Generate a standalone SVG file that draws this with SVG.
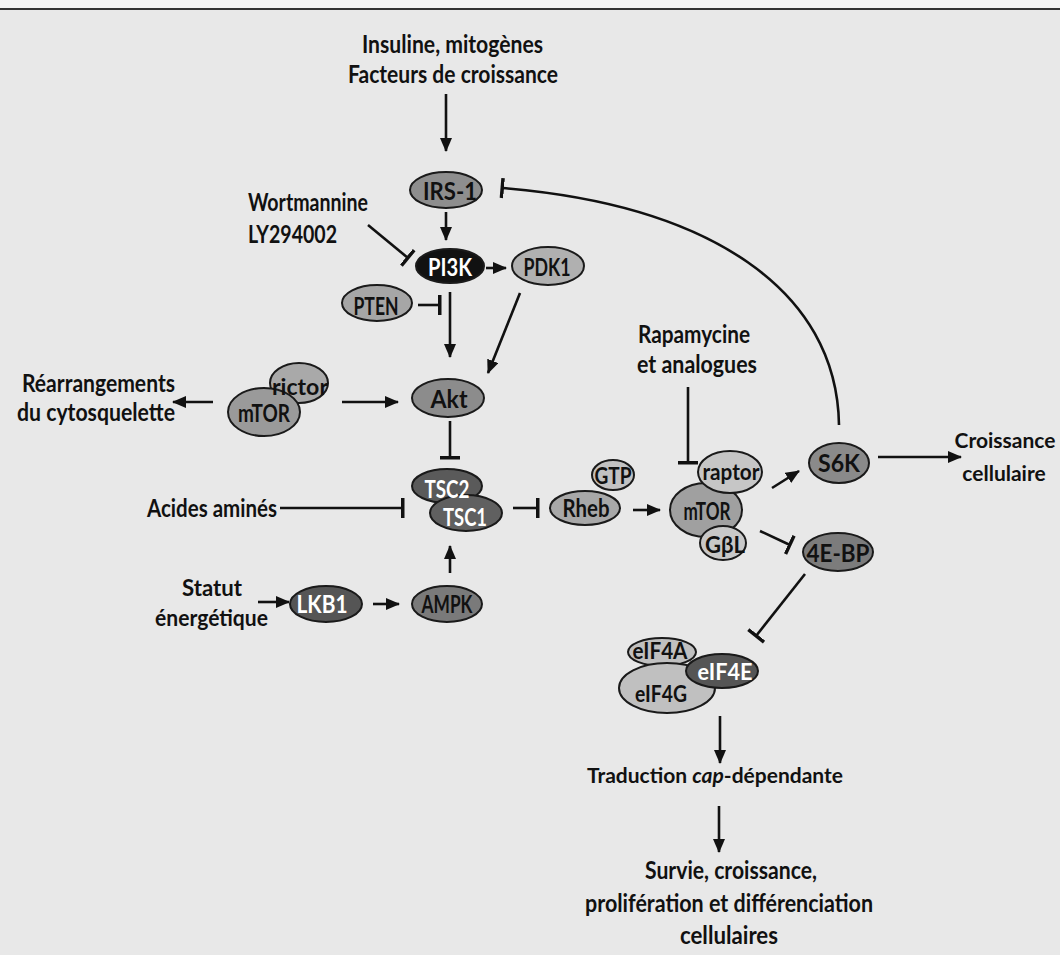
<svg xmlns="http://www.w3.org/2000/svg" width="1060" height="955" viewBox="0 0 1060 955">
<defs>
<style>
text{font-family:Lato,"Open Sans","DejaVu Sans",sans-serif;font-weight:bold;fill:#111}
.lbl{font-size:25px}
.l2{font-size:23px}
.l3{font-size:21px;text-anchor:middle}
.nt{font-size:25px;text-anchor:middle}
.sm{font-size:22px}
.w{fill:#fff}
.n{stroke:#1a1a1a;stroke-width:2}
.e{fill:none;stroke:#111;stroke-width:2.6}
.a{marker-end:url(#arr)}
.t{marker-end:url(#bar)}
</style>
<marker id="arr" markerUnits="userSpaceOnUse" markerWidth="14" markerHeight="12" refX="13" refY="6" orient="auto">
<path d="M0,0 L14,6 L0,12 z" fill="#111"/>
</marker>
<marker id="bar" markerUnits="userSpaceOnUse" markerWidth="4" markerHeight="22" refX="2" refY="11" orient="auto">
<rect x="0" y="1" width="3.5" height="20" fill="#111"/>
</marker>
</defs>
<rect width="1060" height="955" fill="#e8e8e8"/>
<rect width="1060" height="8" fill="#f4f4f4"/>
<line x1="0" y1="9" x2="1060" y2="9" stroke="#333" stroke-width="2"/>

<g id="labels">
<text class="lbl" x="362" y="53" textLength="181" lengthAdjust="spacingAndGlyphs">Insuline, mitogènes</text>
<text class="lbl" x="348" y="83" textLength="210" lengthAdjust="spacingAndGlyphs">Facteurs de croissance</text>
<text class="lbl" x="248" y="211" textLength="120" lengthAdjust="spacingAndGlyphs">Wortmannine</text>
<text class="lbl" x="248" y="243" textLength="89" lengthAdjust="spacingAndGlyphs">LY294002</text>
<text class="lbl" x="22" y="392" textLength="153" lengthAdjust="spacingAndGlyphs">Réarrangements</text>
<text class="lbl" x="17" y="421" textLength="158" lengthAdjust="spacingAndGlyphs">du cytosquelette</text>
<text class="lbl" x="147" y="517" textLength="130" lengthAdjust="spacingAndGlyphs">Acides aminés</text>
<text class="l2" x="182" y="596" textLength="60" lengthAdjust="spacingAndGlyphs">Statut</text>
<text class="l2" x="155" y="626" textLength="113" lengthAdjust="spacingAndGlyphs">énergétique</text>
<text class="lbl" x="638" y="343" textLength="112" lengthAdjust="spacingAndGlyphs">Rapamycine</text>
<text class="lbl" x="637" y="373" textLength="120" lengthAdjust="spacingAndGlyphs">et analogues</text>
<text class="l3" x="1005" y="448">Croissance</text>
<text class="l3" x="1004" y="481">cellulaire</text>
<text class="l3" x="715" y="783">Traduction <tspan font-style="italic">cap</tspan>-dépendante</text>
<text class="lbl" x="645" y="879" textLength="172" lengthAdjust="spacingAndGlyphs">Survie, croissance,</text>
<text class="lbl" x="585" y="912" textLength="288" lengthAdjust="spacingAndGlyphs">prolifération et différenciation</text>
<text class="lbl" x="680" y="944" textLength="98" lengthAdjust="spacingAndGlyphs">cellulaires</text>
</g>

<g id="connectors">
<line class="e a" x1="446" y1="94" x2="446" y2="151"/>
<line class="e a" x1="446" y1="212" x2="446" y2="240"/>
<line class="e t" x1="368" y1="225" x2="408" y2="258"/>
<line class="e a" x1="486" y1="268" x2="506" y2="268"/>
<line class="e t" x1="418" y1="305" x2="440" y2="305"/>
<line class="e a" x1="450" y1="292" x2="450" y2="357"/>
<line class="e a" x1="520" y1="293" x2="488" y2="373"/>
<line class="e a" x1="342" y1="402" x2="398" y2="402"/>
<line class="e a" x1="213" y1="402" x2="173" y2="402"/>
<line class="e t" x1="450" y1="421" x2="450" y2="458"/>
<line class="e t" x1="280" y1="508" x2="403" y2="508"/>
<line class="e t" x1="513" y1="508" x2="538" y2="508"/>
<line class="e a" x1="633" y1="510" x2="660" y2="510"/>
<line class="e t" x1="688" y1="387" x2="688" y2="463"/>
<line class="e a" x1="772" y1="488" x2="799" y2="471"/>
<line class="e a" x1="878" y1="457" x2="961" y2="457"/>
<path class="e t" d="M839 425 C837 290 710 205 502 188"/>
<line class="e t" x1="760" y1="531" x2="790" y2="545"/>
<line class="e t" x1="805" y1="574" x2="756" y2="636"/>
<line class="e a" x1="720" y1="716" x2="720" y2="763"/>
<line class="e a" x1="719" y1="806" x2="719" y2="852"/>
<line class="e a" x1="258" y1="602" x2="289" y2="602"/>
<line class="e a" x1="373" y1="604" x2="399" y2="604"/>
<line class="e a" x1="450" y1="573" x2="450" y2="546"/>
</g>

<g id="IRS-1"><ellipse class="n" cx="446" cy="190" rx="36" ry="18" fill="#8e8e8e"/><text class="nt" x="450" y="200" textLength="54" lengthAdjust="spacingAndGlyphs">IRS-1</text></g>
<g id="PI3K"><ellipse class="n" cx="450" cy="266" rx="34" ry="17" fill="#111"/><text class="nt w" x="450" y="276" textLength="44" lengthAdjust="spacingAndGlyphs">PI3K</text></g>
<g id="PDK1"><ellipse class="n" cx="548" cy="266" rx="36" ry="19" fill="#b0b0b0"/><text class="nt" x="547" y="276" textLength="47" lengthAdjust="spacingAndGlyphs">PDK1</text></g>
<g id="PTEN"><ellipse class="n" cx="377" cy="303" rx="35" ry="18" fill="#a6a6a6"/><text class="nt" x="376" y="315" textLength="45" lengthAdjust="spacingAndGlyphs">PTEN</text></g>
<g id="Akt"><ellipse class="n" cx="448" cy="398" rx="36" ry="19" fill="#8c8c8c"/><text class="nt" x="449" y="408" textLength="37" lengthAdjust="spacingAndGlyphs">Akt</text></g>
<g id="mTORC2">
<ellipse class="n" cx="299" cy="383" rx="29" ry="20" fill="#a9a9a9"/>
<ellipse class="n" cx="264" cy="412" rx="36" ry="24" fill="#9a9a9a"/>
<text class="nt sm" x="300" y="395" textLength="56" lengthAdjust="spacingAndGlyphs">rictor</text>
<text class="nt" x="264" y="422" textLength="52" lengthAdjust="spacingAndGlyphs">mTOR</text>
</g>
<g id="TSC">
<ellipse class="n" cx="447" cy="486" rx="35" ry="17" fill="#5a5a5a"/>
<ellipse class="n" cx="466" cy="513" rx="36" ry="18" fill="#606060"/>
<text class="nt w" x="447" y="498" textLength="45" lengthAdjust="spacingAndGlyphs">TSC2</text>
<text class="nt w" x="465" y="526" textLength="44" lengthAdjust="spacingAndGlyphs">TSC1</text>
</g>
<g id="Rheb">
<ellipse class="n" cx="613" cy="475" rx="21" ry="15" fill="#c2c2c2"/>
<ellipse class="n" cx="585" cy="508" rx="35" ry="17" fill="#a8a8a8"/>
<text class="nt sm" x="613" y="484" textLength="37" lengthAdjust="spacingAndGlyphs">GTP</text>
<text class="nt" x="586" y="517" textLength="47" lengthAdjust="spacingAndGlyphs">Rheb</text>
</g>
<g id="mTORC1">
<ellipse class="n" cx="706" cy="510" rx="36" ry="27" fill="#a0a0a0"/>
<ellipse class="n" cx="730" cy="472" rx="32" ry="21" fill="#c6c6c6"/>
<ellipse class="n" cx="723" cy="543" rx="23" ry="17" fill="#c8c8c8"/>
<text class="nt sm" x="731" y="480" textLength="57" lengthAdjust="spacingAndGlyphs">raptor</text>
<text class="nt" x="707" y="520" textLength="47" lengthAdjust="spacingAndGlyphs">mTOR</text>
<text class="nt sm" x="725" y="553" textLength="40" lengthAdjust="spacingAndGlyphs">GβL</text>
</g>
<g id="S6K"><ellipse class="n" cx="839" cy="463" rx="30" ry="20" fill="#8a8a8a"/><text class="nt" x="839" y="472" textLength="42" lengthAdjust="spacingAndGlyphs">S6K</text></g>
<g id="4E-BP"><ellipse class="n" cx="838" cy="552" rx="35" ry="19" fill="#7c7c7c"/><text class="nt" x="838" y="562" textLength="63" lengthAdjust="spacingAndGlyphs">4E-BP</text></g>
<g id="eIF4F">
<ellipse class="n" cx="662" cy="652" rx="34" ry="14" fill="#c0c0c0"/>
<ellipse class="n" cx="667" cy="688" rx="48" ry="25" fill="#c0c0c0"/>
<ellipse class="n" cx="722" cy="671" rx="36" ry="17" fill="#555"/>
<text class="nt sm" x="660" y="659" textLength="55" lengthAdjust="spacingAndGlyphs">eIF4A</text>
<text class="nt sm" x="661" y="702" textLength="52" lengthAdjust="spacingAndGlyphs">eIF4G</text>
<text class="nt sm w" x="725" y="680" textLength="55" lengthAdjust="spacingAndGlyphs">eIF4E</text>
</g>
<g id="LKB1"><ellipse class="n" cx="326" cy="604" rx="36" ry="18" fill="#555"/><text class="nt w" x="322" y="613" textLength="51" lengthAdjust="spacingAndGlyphs">LKB1</text></g>
<g id="AMPK"><ellipse class="n" cx="447" cy="604" rx="35" ry="18" fill="#7a7a7a"/><text class="nt" x="447" y="613" textLength="51" lengthAdjust="spacingAndGlyphs">AMPK</text></g>
</svg>
